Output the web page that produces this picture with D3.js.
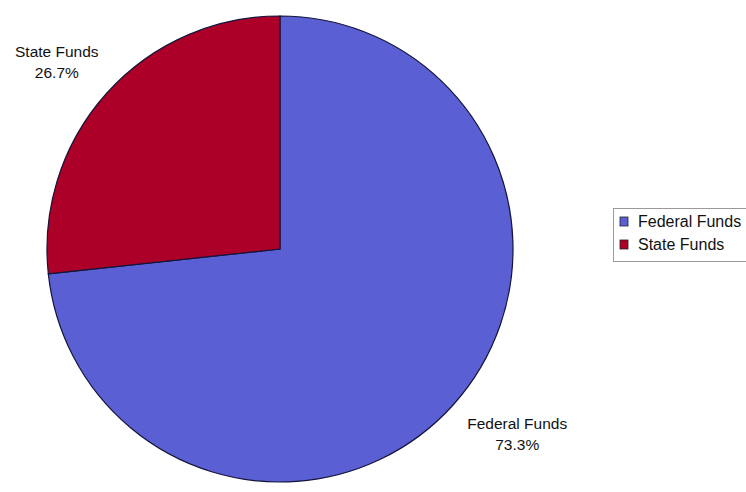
<!DOCTYPE html>
<html>
<head>
<meta charset="utf-8">
<script src="https://cdn.jsdelivr.net/npm/d3@7"></script>
<style>
  html, body { margin: 0; padding: 0; background: #fff; overflow: hidden; }
  svg { display: block; }
  text { font-family: "Liberation Sans", Arial, sans-serif; fill: #111; }
</style>
</head>
<body>
<svg id="chart" width="746" height="492"></svg>
<script>
// Funding sources (percent of total)
const categories = ["Federal Funds", "State Funds"];
const values = [73.3, 26.7];
const valueLabels = ["73.3%", "26.7%"];
const colors = ["#5a60d4", "#ad0028"];

const svg = d3.select("#chart");
const cx = 280, cy = 249, radius = 233;

const pie = d3.pie().sort(null).value(d => d.value);
const slices = pie(categories.map((c, i) => ({ name: c, value: values[i], label: valueLabels[i] })));

const arc = d3.arc().innerRadius(0).outerRadius(radius);

const g = svg.append("g").attr("transform", `translate(${cx},${cy})`);

g.selectAll("path.slice")
  .data(slices)
  .enter().append("path")
  .attr("class", "slice")
  .attr("d", arc)
  .attr("fill", (d, i) => colors[i])
  .attr("stroke", "#14143a")
  .attr("stroke-width", 1.2);

// Data labels placed outside the slices along each mid-angle
const labelArc = d3.arc().innerRadius(292).outerRadius(292);
const nudges = [[20, -14], [-6, 4]];

const labels = g.selectAll("text.lbl")
  .data(slices)
  .enter().append("text")
  .attr("class", "lbl")
  .attr("text-anchor", "middle")
  .attr("font-size", 15.5)
  .attr("transform", (d, i) => {
    const [x, y] = labelArc.centroid(d);
    return `translate(${x + nudges[i][0]},${y + nudges[i][1]})`;
  });
labels.append("tspan").attr("x", 0).attr("dy", "-0.05em").text(d => d.data.name);
labels.append("tspan").attr("x", 0).attr("dy", "1.35em").text(d => d.data.label);

// Legend (box runs past the right edge of the page)
const legend = svg.append("g").attr("transform", "translate(613,208)");
legend.append("rect")
  .attr("x", 0.5).attr("y", 0.5)
  .attr("width", 170).attr("height", 53)
  .attr("fill", "#fff")
  .attr("stroke", "#9a9a9a")
  .attr("stroke-width", 1);

const items = legend.selectAll("g.item")
  .data(categories)
  .enter().append("g")
  .attr("class", "item")
  .attr("transform", (d, i) => `translate(0,${i * 23})`);

items.append("rect")
  .attr("x", 7).attr("y", 9)
  .attr("width", 8).attr("height", 9)
  .attr("fill", (d, i) => colors[i])
  .attr("stroke", "#222")
  .attr("stroke-width", 0.8);

items.append("text")
  .attr("x", 25).attr("y", 19)
  .attr("font-size", 16)
  .text(d => d);
</script>
</body>
</html>
